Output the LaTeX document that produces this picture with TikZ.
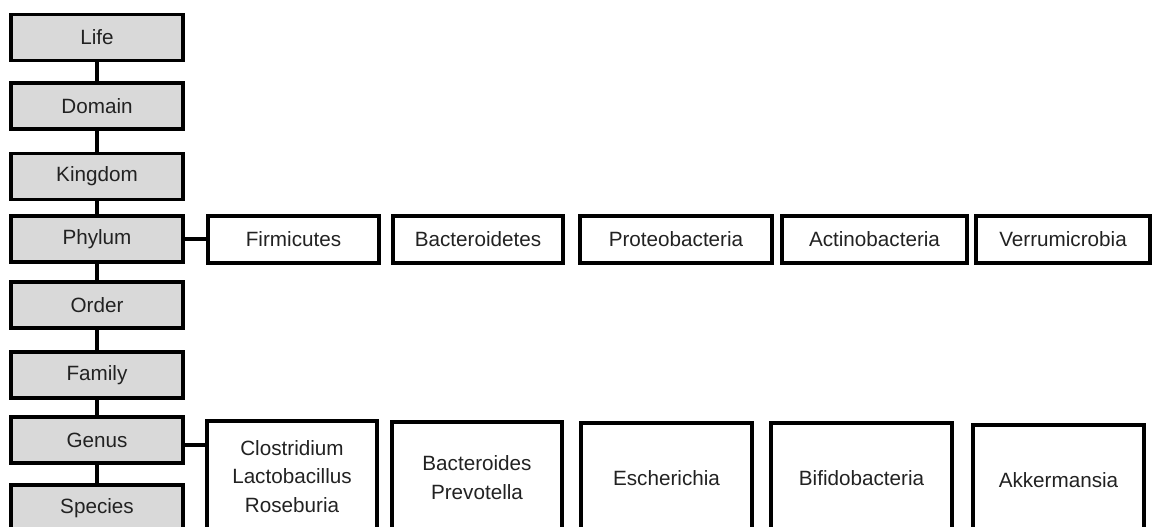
\documentclass[tikz,border=0pt]{standalone}
\usepackage{fontspec}
\setmainfont{Liberation Sans}
\definecolor{rankgray}{HTML}{D9D9D9}
\definecolor{labelink}{HTML}{222222}
\tikzset{
  rankbox/.style={draw=black, fill=rankgray, line width=2.5pt, inner sep=0pt,
    minimum width=129pt, minimum height=34.5pt},
  taxbox/.style={draw=black, fill=white, line width=2.5pt, inner sep=0pt,
    minimum height=35.25pt},
  genbox/.style={draw=black, fill=white, line width=2.5pt, inner sep=0pt,
    minimum height=83.25pt, align=center},
  link/.style={draw=black, line width=2.3pt}
}
\begin{document}
\begin{tikzpicture}[x=0.75pt, y=-0.75pt,
    every node/.append style={font=\fontsize{15.5}{21.5}\selectfont, text=labelink}]
  \useasboundingbox (0,0) rectangle (1152,526);
  % ranks
  \node [rankbox] (life) at (97,37.5) {Life};
  \node [rankbox] (domain) at (97,106) {Domain};
  \node [rankbox] (kingdom) at (97,176.5) {Kingdom};
  \node [rankbox] (phylum) at (97,239) {Phylum};
  \node [rankbox] (order) at (97,305) {Order};
  \node [rankbox] (family) at (97,375) {Family};
  \node [rankbox] (genus) at (97,440) {Genus};
  \node [rankbox] (species) at (97,508) {Species};
  \draw [link] (life) -- (domain);
  \draw [link] (domain) -- (kingdom);
  \draw [link] (kingdom) -- (phylum);
  \draw [link] (phylum) -- (order);
  \draw [link] (order) -- (family);
  \draw [link] (family) -- (genus);
  \draw [link] (genus) -- (species);
  % phyla
  \node [taxbox, minimum width=128.25pt] (firm) at (293.5,239.5) {Firmicutes};
  \node [taxbox, minimum width=127.5pt] (bact) at (478,239.5) {Bacteroidetes};
  \node [taxbox, minimum width=144pt] (prot) at (676,239.5) {Proteobacteria};
  \node [taxbox, minimum width=138.75pt] (actino) at (874.5,239.5) {Actinobacteria};
  \node [taxbox, minimum width=130.5pt] (verru) at (1063,239.5) {Verrumicrobia};
  \draw [link] (phylum.east) -- (firm.west |- phylum.east);
  % genera
  \node [genbox, minimum width=127.5pt] (clos) at (292,476.5) {Clostridium\\Lactobacillus\\Roseburia};
  \node [genbox, minimum width=127.5pt] (bactgen) at (477,477.5) {Bacteroides\\Prevotella};
  \node [genbox, minimum width=128.25pt] (esch) at (666.5,478.5) {Escherichia};
  \node [genbox, minimum width=135.75pt] (bifi) at (861.5,478.5) {Bifidobacteria};
  \node [genbox, minimum width=128.25pt] (akk) at (1058.5,480.5) {Akkermansia};
  \draw [link] ([yshift=-3.75pt]genus.east) -- ([yshift=-3.75pt]clos.west |- genus.east);
\end{tikzpicture}
\end{document}
